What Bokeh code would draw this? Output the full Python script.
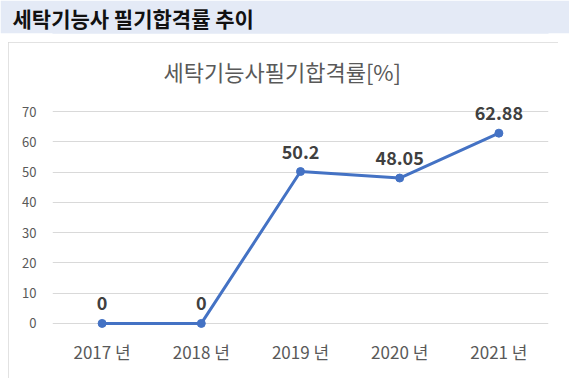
from bokeh.plotting import figure
from bokeh.models import LabelSet, ColumnDataSource, Range1d, FactorRange, FixedTicker, Spacer
from bokeh.layouts import column, row
from bokeh.embed import file_html
from bokeh.resources import INLINE
from bokeh.core.properties import value

years = ["2017 년", "2018 년", "2019 년", "2020 년", "2021 년"]
rates = [0, 0, 50.2, 48.05, 62.88]
rate_labels = ["0", "0", "50.2", "48.05", "62.88"]
y_ticks = [0, 10, 20, 30, 40, 50, 60, 70]

FONT = "Noto Sans CJK KR"
HEADER_BG = "#e4eaf6"

# ---- header band ----
header = figure(width=569, height=33, output_backend="svg", toolbar_location=None,
                x_range=Range1d(0, 1), y_range=Range1d(0, 1),
                min_border_left=52, min_border_right=21, min_border_top=0, min_border_bottom=0,
                x_axis_location=None, y_axis_location=None,
                title="세탁기능사 필기합격률 추이")
header.grid.visible = False
header.outline_line_color = None
header.background_fill_color = HEADER_BG
header.border_fill_color = HEADER_BG
header.title.align = "left"
header.title.offset = -40
header.title.standoff = 2
header.title.text_font = FONT
header.title.text_font_size = "21px"
header.title.text_font_style = "bold"
header.title.text_color = "#111111"

# ---- chart ----
src = ColumnDataSource(dict(year=years, rate=rates, label=rate_labels))

p = figure(width=550, height=336, output_backend="svg", toolbar_location=None,
           x_range=FactorRange(*years, range_padding=0), y_range=Range1d(-3, 75),
           min_border_left=44, min_border_right=10, min_border_top=54, min_border_bottom=46,
           title="세탁기능사필기합격률[%]")
p.styles = {"outline": "1px solid #d9d9d9", "outline-offset": "-1px"}
p.outline_line_color = None
p.background_fill_color = "white"
p.border_fill_color = "white"
p.title.align = "left"
p.title.offset = 111
p.title.standoff = 20
p.title.text_font = FONT
p.title.text_font_size = "22px"
p.title.text_font_style = "normal"
p.title.text_color = "#595959"

p.xgrid.visible = False
p.ygrid.grid_line_color = "#d9d9d9"
p.ygrid.grid_line_width = 1
p.yaxis.ticker = FixedTicker(ticks=y_ticks)
for ax in (p.xaxis[0], p.yaxis[0]):
    ax.axis_line_color = None
    ax.major_tick_line_color = None
    ax.minor_tick_line_color = None
    ax.major_label_text_font = FONT
    ax.major_label_text_color = "#595959"
p.xaxis.major_label_text_font_size = "17px"
p.yaxis.major_label_text_font_size = "13px"
p.xaxis.major_label_standoff = 0
p.yaxis.major_label_standoff = 10

p.line("year", "rate", source=src, line_color="#4472C4", line_width=3)
p.scatter("year", "rate", source=src, size=8, fill_color="#4472C4", line_color="#4472C4")
p.add_layout(LabelSet(x="year", y="rate", text="label", source=src, y_offset=20,
                      text_align="center", text_baseline="middle",
                      text_font=value(FONT), text_font_size=value("18px"), text_font_style="bold",
                      text_color="#404040"))

layout = column(header, Spacer(height=9), row(Spacer(width=8), p))
open("out.html", "w").write(file_html(layout, INLINE))
